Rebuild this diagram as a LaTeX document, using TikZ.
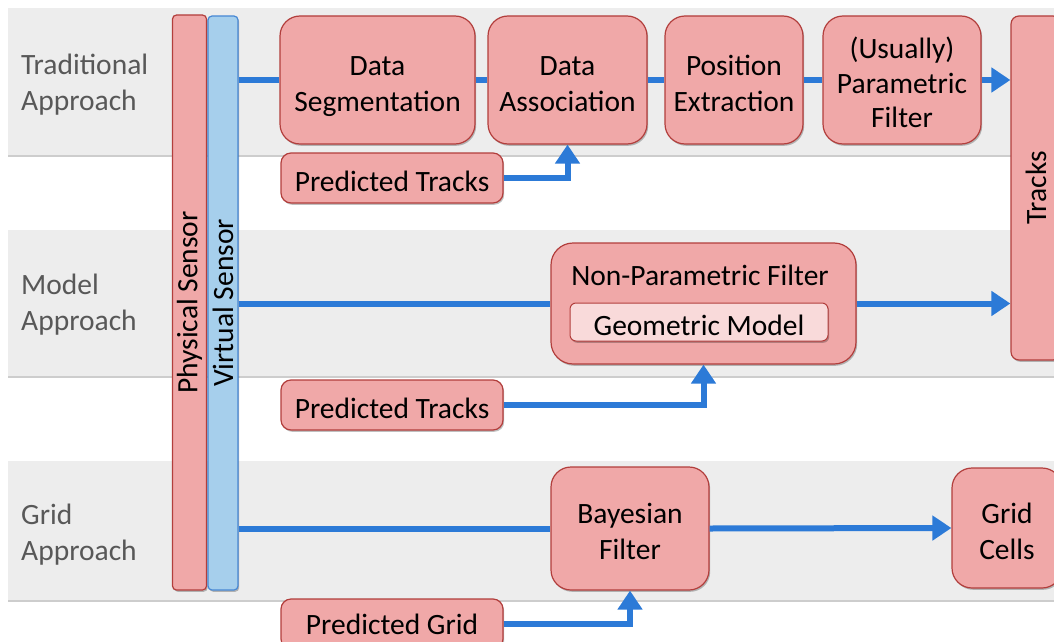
\documentclass[tikz,border=0pt]{standalone}
\usepackage{fontspec}
\setmainfont{Carlito}
\usetikzlibrary{arrows.meta,shadows}

\definecolor{boxfill}{RGB}{240,168,168}
\definecolor{boxline}{RGB}{178,62,60}
\definecolor{vsfill}{RGB}{166,207,236}
\definecolor{vsline}{RGB}{72,136,212}
\definecolor{bandfill}{RGB}{237,237,237}
\definecolor{bandedge}{RGB}{205,205,205}
\definecolor{flow}{RGB}{44,122,215}
\definecolor{labelgray}{RGB}{88,88,88}
\definecolor{gmfill}{RGB}{249,218,218}

\newcommand\dgfont{\fontsize{29.5}{36}\selectfont}
% invisible struts that set where the text sits inside its box
\newcommand\upstrut{\rule{0pt}{34.6pt}}
\newcommand\downstrut{\rule[-8pt]{0pt}{8pt}}
\newcommand\smallupstrut{\rule{0pt}{28pt}}
\newcommand\smalldownstrut{\rule[-1.4pt]{0pt}{1.4pt}}

\tikzset{
  softshadow/.style={drop shadow={shadow xshift=1.2pt, shadow yshift=-1.8pt, opacity=0.25, fill=black}},
  stagebox/.style={draw=boxline, line width=1.2pt, fill=boxfill, rounded corners=20pt,
    align=center, inner sep=0pt, font=\dgfont, softshadow},
  inputbox/.style={stagebox, rounded corners=10pt},
  sensorbar/.style={line width=1.2pt, rounded corners=4pt, inner sep=0pt, font=\dgfont, softshadow},
  rowlabel/.style={anchor=west, align=left, text=labelgray, font=\dgfont, inner sep=0pt},
  flowline/.style={draw=flow, line width=6pt},
  flowarrow/.style={flowline, -{Triangle[length=19pt,width=24pt]}},
}

\begin{document}
\begin{tikzpicture}[x=1pt, y=-1pt]
\useasboundingbox (0,0) rectangle (1054,642);
\clip (0,0) rectangle (1054,642);

% background bands of the three approaches
\foreach \top/\bot in {8/156, 230/377, 461/601}{
  \fill[bandfill] (8,\top) rectangle (1070,\bot);
  \draw[bandedge, line width=1.5pt] (8,\bot) -- (1070,\bot);
}

% row labels
\node[rowlabel] (labtrad) at (21,79) {\upstrut Traditional\\Approach\downstrut};
\node[rowlabel] (labmodel) at (21,299) {\upstrut Model\\Approach\downstrut};
\node[rowlabel] (labgrid) at (21,529) {\upstrut Grid\\Approach\downstrut};

% sensors
\node[sensorbar, draw=boxline, fill=boxfill, minimum width=34pt, minimum height=575pt]
  (ps) at (189.5,302.5) {\rotatebox{90}{Physical Sensor}};
\node[sensorbar, draw=vsline, fill=vsfill, minimum width=30pt, minimum height=574pt]
  (vs) at (223,303) {\rotatebox{90}{Virtual Sensor}};

% tracks output
\node[sensorbar, draw=boxline, fill=boxfill, rounded corners=8pt, minimum width=50pt, minimum height=344pt]
  (tracks) at (1036,188) {\rotatebox{90}{Tracks}};

% traditional approach
\node[stagebox, minimum width=195pt, minimum height=128pt] (seg) at (377.5,80)
  {\upstrut Data\\Segmentation\downstrut};
\node[stagebox, minimum width=159pt, minimum height=128pt] (assoc) at (567.5,80)
  {\upstrut Data\\Association\downstrut};
\node[stagebox, minimum width=138pt, minimum height=128pt] (posx) at (734,80)
  {\upstrut Position\\Extraction\downstrut};
\node[stagebox, minimum width=158pt, minimum height=128pt, font=\fontsize{29.5}{34.5}\selectfont]
  (pfilt) at (902,80) {\upstrut (Usually)\\Parametric\\Filter\downstrut};
\node[inputbox, minimum width=222pt, minimum height=50pt] (pt1) at (392,178)
  {\smallupstrut Predicted Tracks\smalldownstrut};

% model approach
\node[stagebox, rounded corners=22pt, minimum width=305pt, minimum height=121pt] (npf) at (703.5,303.5) {};
\node[font=\dgfont, inner sep=0pt] (npftitle) at (700,272)
  {\smallupstrut Non-Parametric Filter\smalldownstrut};
\node[draw=boxline, line width=1pt, fill=gmfill, rounded corners=6pt, minimum width=258pt,
  minimum height=38pt, inner sep=0pt, font=\dgfont, softshadow] (geom) at (699,322)
  {\smallupstrut Geometric Model\smalldownstrut};
\node[inputbox, minimum width=222pt, minimum height=50pt] (pt2) at (392,405)
  {\smallupstrut Predicted Tracks\smalldownstrut};

% grid approach
\node[stagebox, minimum width=158pt, minimum height=123pt] (bayes) at (630,528.5)
  {\upstrut Bayesian\\Filter\downstrut};
\node[stagebox, minimum width=110pt, minimum height=120pt] (cells) at (1007,528)
  {\upstrut Grid\\Cells\downstrut};
\node[inputbox, minimum width=222pt, minimum height=50pt] (pg) at (392,624)
  {Predicted Grid};

% traditional flow
\draw[flowline] (vs.east |- seg.west) -- (seg.west);
\draw[flowline] (seg.east) -- (assoc.west);
\draw[flowline] (assoc.east) -- (posx.west);
\draw[flowline] (posx.east) -- (pfilt.west);
\draw[flowarrow] (pfilt.east) -- (tracks.west |- pfilt.east);
\draw[flowarrow] (pt1.east) -| (assoc.south);

% model flow
\draw[flowline] (vs.east |- npf.west) -- (npf.west);
\draw[flowarrow] (npf.east) -- (tracks.west |- npf.east);
\draw[flowarrow] (pt2.east) -| (npf.south);

% grid flow
\draw[flowline] (vs.east |- bayes.west) -- (bayes.west);
\draw[flowarrow] (bayes.east) -- (cells.west);
\draw[flowarrow] (pg.east) -| (bayes.south);
\end{tikzpicture}
\end{document}
